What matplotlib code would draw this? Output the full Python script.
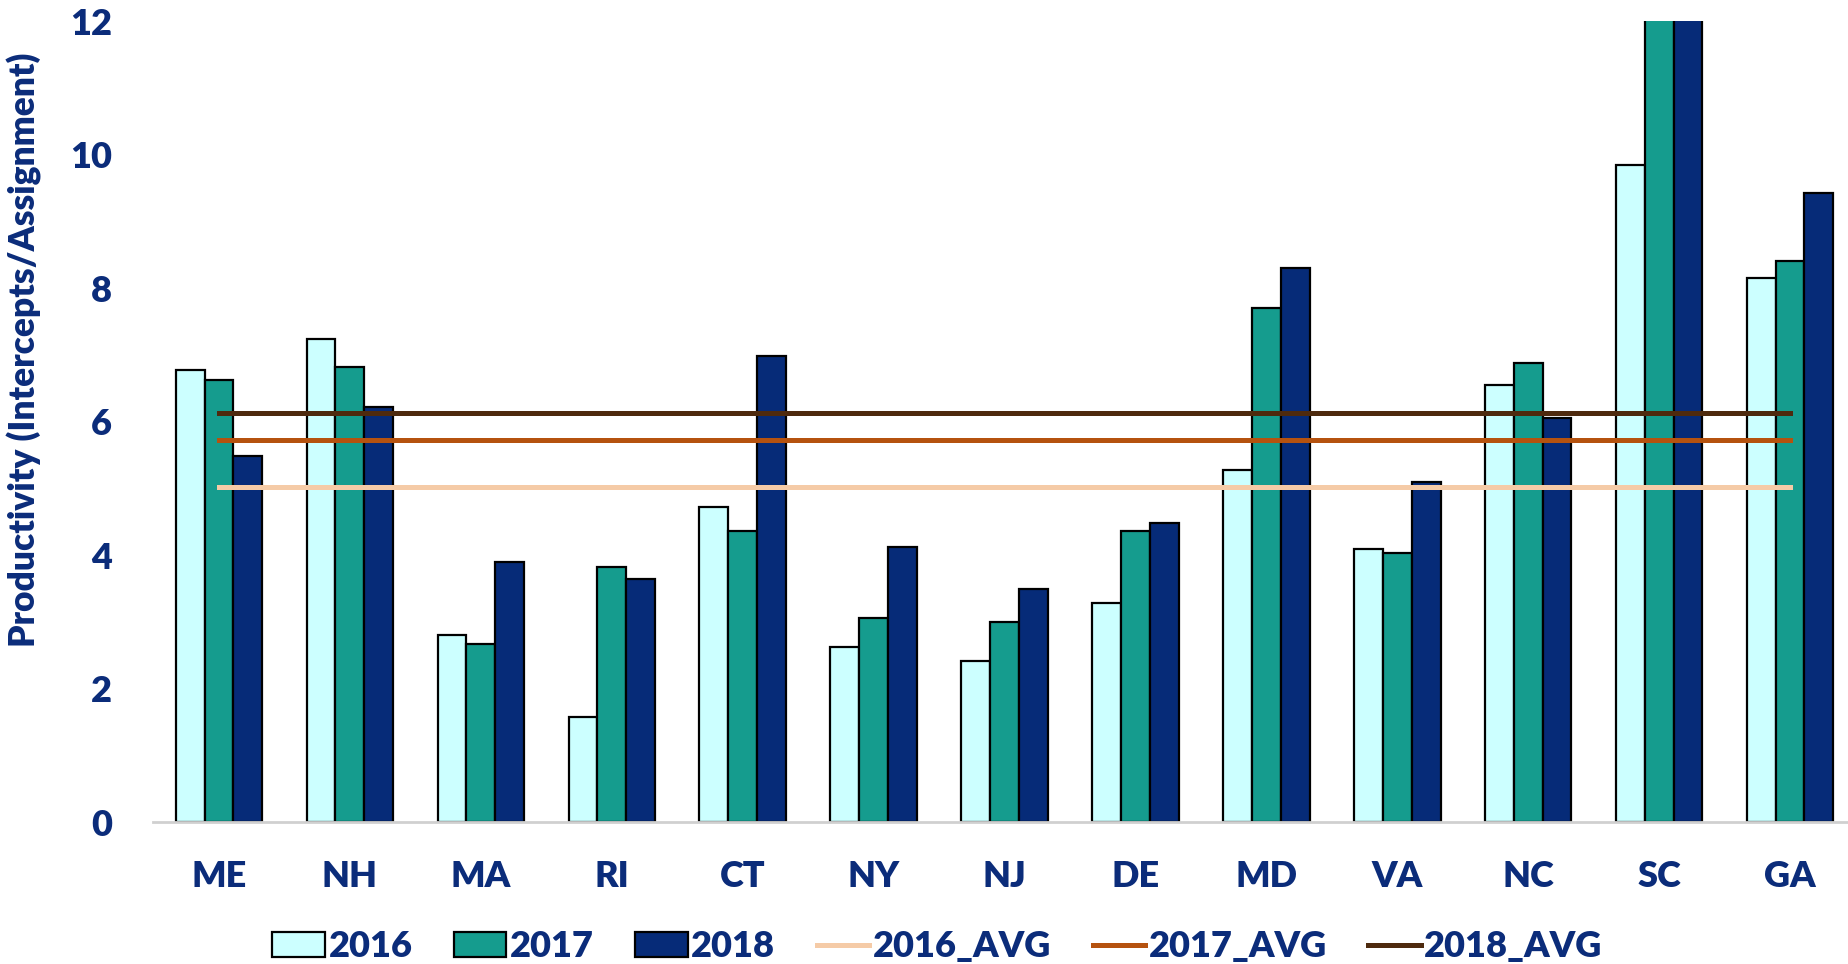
import matplotlib
matplotlib.use("Agg")
import matplotlib.pyplot as plt
import numpy as np

## Data ##

states = ['ME', 'NH', 'MA', 'RI', 'CT', 'NY', 'NJ', 'DE', 'MD', 'VA', 'NC', 'SC', 'GA']
y2016 = [6.78, 7.24, 2.81, 1.57, 4.73, 2.63, 2.42, 3.29, 5.27, 4.09, 6.55, 9.84, 8.16]
y2017 = [6.63, 6.82, 2.67, 3.82, 4.36, 3.06, 3.00, 4.36, 7.70, 4.03, 6.88, 13.4, 8.41]
y2018 = [5.48, 6.22, 3.90, 3.64, 6.98, 4.12, 3.50, 4.49, 8.30, 5.10, 6.05, 13.1, 9.43]
avg2016 = 5.03
avg2017 = 5.73
avg2018 = 6.13

## Style ##

txt = '#0B2C7A'
wt = 'heavy'
plt.rcParams['font.family'] = ['Lato', 'DejaVu Sans']

fig = plt.figure(figsize=(18.49, 9.64), dpi=100)
ax = fig.add_axes([0.083, 0.147, 0.917, 0.831])

x = np.arange(len(states))
w = 0.22

b1 = ax.bar(x - w, y2016, w, color='#CCFFFF', edgecolor='black', linewidth=1.6, label='2016', zorder=2)
b2 = ax.bar(x, y2017, w, color='#159C8E', edgecolor='black', linewidth=1.6, label='2017', zorder=2)
b3 = ax.bar(x + w, y2018, w, color='#062B78', edgecolor='black', linewidth=1.6, label='2018', zorder=2)

l1, = ax.plot(x, [avg2016] * len(x), color='#F5CBA7', linewidth=3.6, label='2016_AVG', zorder=3)
l2, = ax.plot(x, [avg2017] * len(x), color='#B5520F', linewidth=3.6, label='2017_AVG', zorder=3)
l3, = ax.plot(x, [avg2018] * len(x), color='#4E2A0E', linewidth=3.6, label='2018_AVG', zorder=3)

ax.set_xlim(-0.5, 12.45)
ax.set_ylim(0, 12)
ax.set_yticks([0, 2, 4, 6, 8, 10, 12])
ax.set_xticks(x)
ax.set_xticklabels(states)

for s in ['top', 'right', 'left']:
    ax.spines[s].set_visible(False)
ax.spines['bottom'].set_color('#D0D0D0')
ax.spines['bottom'].set_linewidth(2)

ax.tick_params(axis='both', length=0, labelsize=26, labelcolor=txt)
ax.tick_params(axis='x', pad=27)
ax.tick_params(axis='y', pad=30)
for lab in ax.get_xticklabels() + ax.get_yticklabels():
    lab.set_fontweight(wt)

ax.set_ylabel('Productivity (Intercepts/Assignment)', fontsize=25.5, color=txt,
              fontweight=wt)
ax.yaxis.set_label_coords(-0.066, 0.59)

fig.legend([b1, b2, b3, l1, l2, l3],
           ['2016', '2017', '2018', '2016_AVG', '2017_AVG', '2018_AVG'],
           loc='center', bbox_to_anchor=(0.507, 0.018), ncol=6, frameon=False,
           labelcolor=txt, handlelength=1.45, handleheight=0.65, handletextpad=0.1,
           columnspacing=1.15, prop={'weight': wt, 'size': 26})

fig.savefig('out.png', dpi=100)
